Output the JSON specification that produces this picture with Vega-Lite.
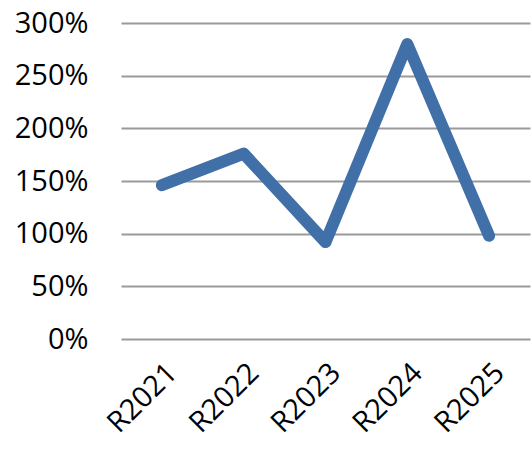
{
  "$schema": "https://vega.github.io/schema/vega-lite/v6.json",
  "autosize": {"type": "none"},
  "width": 409,
  "height": 316,
  "padding": {"left": 121, "top": 23, "right": 1, "bottom": 110},
  "background": "white",
  "config": {
    "view": {"stroke": null},
    "font": "Open Sans",
    "axis": {"labelFont": "Open Sans", "labelColor": "#000000"}
  },
  "data": {
    "values": [
      {"year": "R2021", "ratio": 1.46},
      {"year": "R2022", "ratio": 1.76},
      {"year": "R2023", "ratio": 0.92},
      {"year": "R2024", "ratio": 2.80},
      {"year": "R2025", "ratio": 0.98}
    ]
  },
  "mark": {"type": "line", "color": "#416fa8", "strokeWidth": 12, "strokeCap": "round", "strokeJoin": "round"},
  "encoding": {
    "x": {
      "field": "year",
      "type": "ordinal",
      "scale": {"type": "point", "padding": 0.5},
      "axis": {
        "title": null,
        "labelAngle": -45,
        "labelFontSize": 29,
        "labelPadding": 19,
        "ticks": false,
        "domain": false,
        "grid": false
      }
    },
    "y": {
      "field": "ratio",
      "type": "quantitative",
      "scale": {"domain": [0, 3], "nice": false},
      "axis": {
        "title": null,
        "format": ".0%",
        "values": [0, 0.5, 1, 1.5, 2, 2.5, 3],
        "labelFontSize": 29,
        "labelPadding": 33,
        "ticks": false,
        "domain": false,
        "gridColor": "#9a9a9a",
        "gridWidth": 2,
        "gridOpacity": 1
      }
    }
  }
}
